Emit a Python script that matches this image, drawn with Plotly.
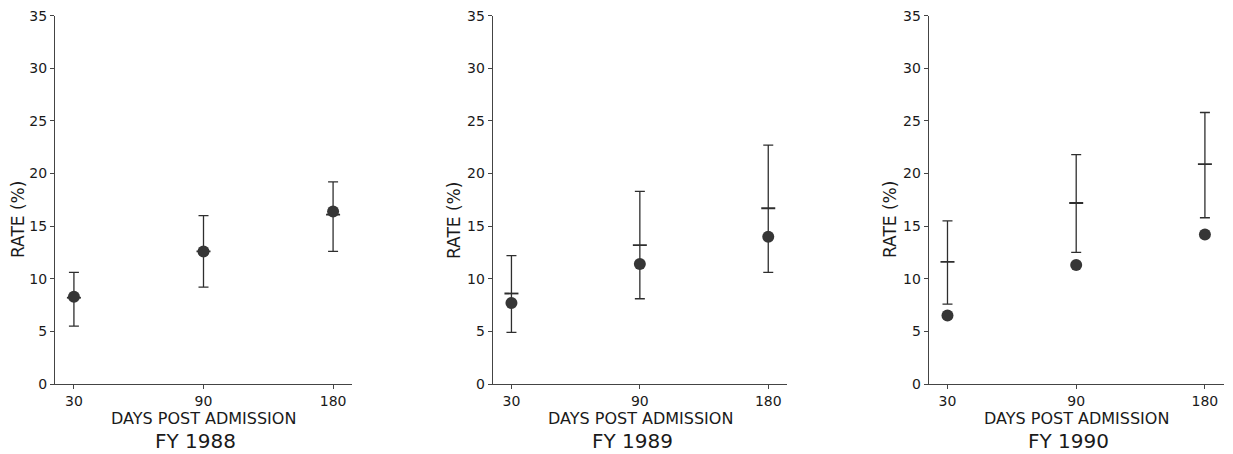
import plotly.graph_objects as go

# ---- data ----
days = ["30", "90", "180"]
years = ["FY 1988", "FY 1989", "FY 1990"]

observed_1988 = [8.3, 12.6, 16.4]
expected_1988 = [8.2, 12.6, 16.1]
upper_1988 = [10.6, 16.0, 19.2]
lower_1988 = [5.5, 9.2, 12.6]

observed_1989 = [7.7, 11.4, 14.0]
expected_1989 = [8.6, 13.2, 16.7]
upper_1989 = [12.2, 18.3, 22.7]
lower_1989 = [4.9, 8.1, 10.6]

observed_1990 = [6.5, 11.3, 14.2]
expected_1990 = [11.6, 17.2, 20.9]
upper_1990 = [15.5, 21.8, 25.8]
lower_1990 = [7.6, 12.5, 15.8]

panels = [
    (observed_1988, expected_1988, upper_1988, lower_1988),
    (observed_1989, expected_1989, upper_1989, lower_1989),
    (observed_1990, expected_1990, upper_1990, lower_1990),
]

FW, FH = 1233, 454


def px(x):
    return x / FW


def py(y):
    return (FH - y) / FH


x_domains = [(px(55), px(352)), (px(492.7), px(787)), (px(928.7), px(1223.7))]
y_domain = (py(384), py(15.7))
ytitle_x = [18, 454, 890]
xtitle_x = [203.3, 640, 1076]
ink = "#2e2e2e"
txt = "#1a1a1a"
fontfam = "DejaVu Sans, Arial, sans-serif"

fig = go.Figure()
xpos = list(range(len(days)))

for i, (obs, exp, up, lo) in enumerate(panels):
    xa = "x" if i == 0 else f"x{i+1}"
    ya = "y" if i == 0 else f"y{i+1}"
    # interval with caps and expected-value tick
    fig.add_trace(go.Scatter(
        x=xpos, y=exp, xaxis=xa, yaxis=ya, mode="markers",
        marker=dict(symbol="line-ew", size=10, line=dict(color=ink, width=1.8)),
        error_y=dict(type="data", symmetric=False,
                     array=[u - e for u, e in zip(up, exp)],
                     arrayminus=[e - l for e, l in zip(exp, lo)],
                     color=ink, thickness=1.3, width=5),
        showlegend=False, hoverinfo="skip"))
    # observed dots
    fig.add_trace(go.Scatter(
        x=xpos, y=obs, xaxis=xa, yaxis=ya, mode="markers",
        marker=dict(symbol="circle", size=12, color="#363636"),
        showlegend=False))

    axis_common = dict(showline=True, linecolor="#444444", linewidth=1.2,
                       showgrid=False, zeroline=False, ticks="outside",
                       ticklen=4, tickcolor="#444444", automargin=False,
                       tickfont=dict(family=fontfam, size=14, color=txt))
    fig.update_layout(**{
        ("xaxis" if i == 0 else f"xaxis{i+1}"): dict(
            domain=list(x_domains[i]), anchor=ya, range=[-0.146, 2.146],
            tickvals=xpos, ticktext=days, **axis_common),
        ("yaxis" if i == 0 else f"yaxis{i+1}"): dict(
            domain=list(y_domain), anchor=xa, range=[0, 35],
            tickvals=[0, 5, 10, 15, 20, 25, 30, 35], **axis_common),
    })

    fig.add_annotation(text="DAYS POST ADMISSION", xref="paper", yref="paper",
                       x=px(xtitle_x[i]), y=py(418), showarrow=False,
                       xanchor="center", yanchor="middle",
                       font=dict(family=fontfam, size=16, color=txt))
    fig.add_annotation(text=years[i], xref="paper", yref="paper",
                       x=px(xtitle_x[i] - 8), y=py(441), showarrow=False,
                       xanchor="center", yanchor="middle",
                       font=dict(family=fontfam, size=20, color=txt))
    fig.add_annotation(text="RATE (%)", xref="paper", yref="paper",
                       x=px(ytitle_x[i]), y=py(220), showarrow=False,
                       textangle=-90, xanchor="center", yanchor="middle",
                       font=dict(family=fontfam, size=17, color=txt))

fig.update_layout(width=FW, height=FH, template="none",
                  paper_bgcolor="white", plot_bgcolor="white",
                  margin=dict(l=0, r=0, t=0, b=0), showlegend=False)

fig.write_html("out.html", config={"displayModeBar": False},
               post_script="document.body.style.margin='0px';"
                           "document.body.style.overflow='hidden';")
